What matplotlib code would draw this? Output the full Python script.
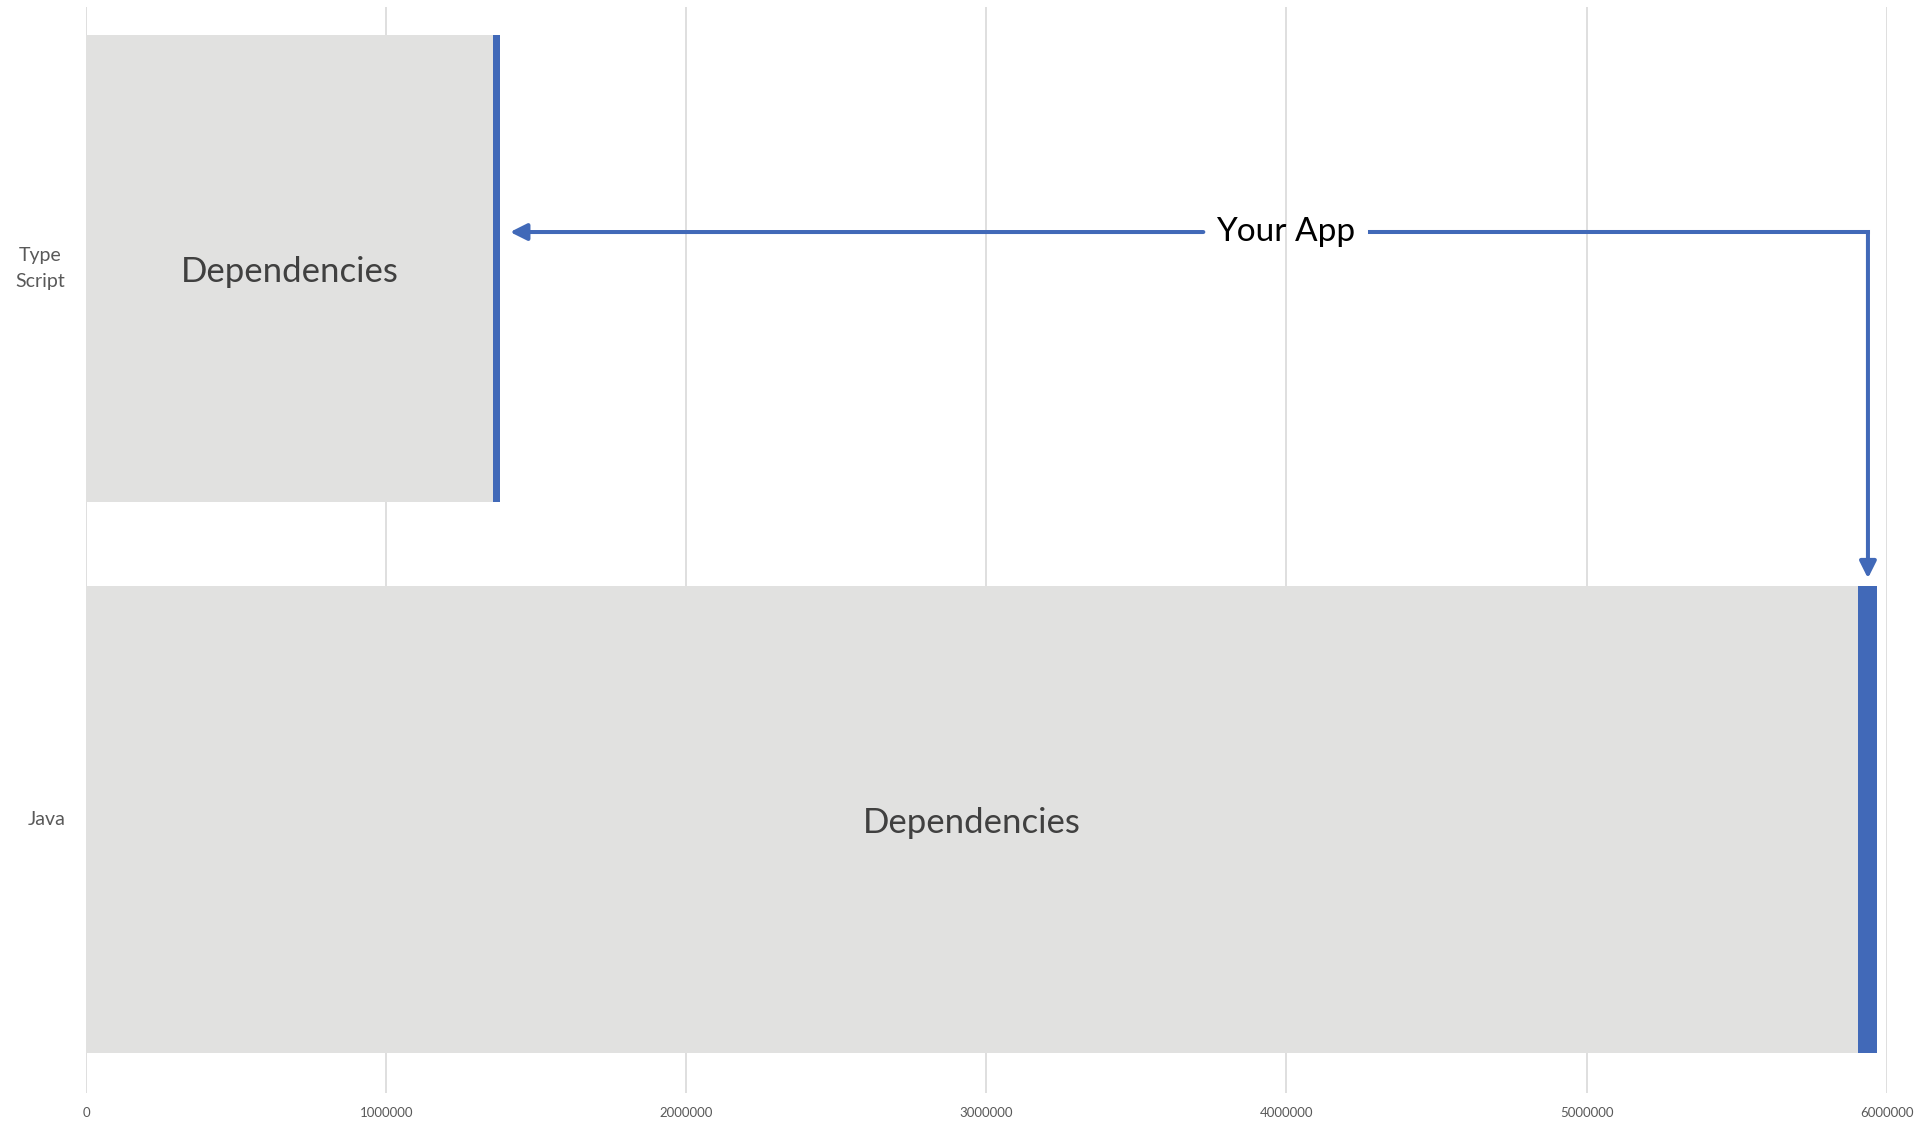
import matplotlib.pyplot as plt

plt.rcParams['font.family'] = ['Lato', 'DejaVu Sans']

# Lines of code, split into third-party dependencies and the app itself
languages = ['Java', 'Type\nScript']
dependencies = [5906000, 1355000]
your_app = [63000, 25000]
x_ticks = [0, 1000000, 2000000, 3000000, 4000000, 5000000, 6000000]

grey = '#E1E1E0'
blue = '#4169B8'

fig = plt.figure(figsize=(19.21, 11.22), dpi=100)
ax = fig.add_axes([86 / 1921, 1 - 1093 / 1122, (1886.7 - 86) / 1921, (1093 - 7) / 1122])

pos = list(range(len(languages)))
bar_h = 0.8475
deps = ax.barh(pos, dependencies, height=bar_h, color=grey)
ax.barh(pos, your_app, left=dependencies, height=bar_h, color=blue)
labels = ax.bar_label(deps, labels=['Dependencies'] * len(languages), label_type='center',
                      fontsize=25, color='#404040')
for t in labels:
    t.set_y(t.get_position()[1] - 2.5)

ax.set_xlim(0, 6000000)
ax.set_ylim(-0.4964, 1.4746)
ax.set_xticks(x_ticks)
ax.set_xticklabels([str(v) for v in x_ticks])
ax.set_yticks(pos)
ax.set_yticklabels(languages, ha='right', va='center', multialignment='center', linespacing=1.6)
ax.tick_params(axis='x', length=0, pad=10, labelsize=9.5, labelcolor='#595959')
ax.tick_params(axis='y', length=0, pad=15, labelsize=14, labelcolor='#595959')
ax.grid(axis='x', color='#D9D9D9', lw=1.2)
ax.set_axisbelow(True)
for s in ax.spines.values():
    s.set_visible(False)

# "Your App" callout pointing at both app segments
ts, java = 1, 0
arrow_y = ts + 0.0662
ts_tip = dependencies[ts] + your_app[ts] + 33000
java_mid = dependencies[java] + your_app[java] / 2
label_x = 4000000 - 2000
ax.text(label_x, arrow_y, 'Your App', fontsize=24, color='black', ha='center', va='center')

head = dict(arrowstyle='-|>,head_length=0.5,head_width=0.25', color=blue, lw=2.9,
            mutation_scale=20, shrinkA=0, shrinkB=0)
ax.annotate('', xy=(ts_tip, arrow_y), xytext=(label_x - 275000, arrow_y), arrowprops=head)
ax.plot([label_x + 282000, java_mid], [arrow_y, arrow_y], color=blue, lw=2.9,
        solid_capstyle='projecting')
ax.annotate('', xy=(java_mid, bar_h / 2 + 0.014), xytext=(java_mid, arrow_y), arrowprops=head)

fig.savefig('out.png', dpi=100, facecolor='white')
